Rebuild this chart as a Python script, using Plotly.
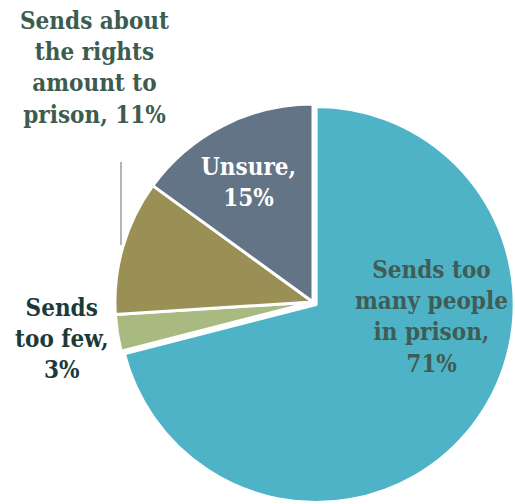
import plotly.graph_objects as go

# Survey shares, clockwise from 12 o'clock
categories = [
    "Sends too many people in prison",
    "Sends too few",
    "Sends about the rights amount to prison",
    "Unsure",
]
label_lines = [
    ["Sends too", "many people", "in prison,"],
    ["Sends", "too few,"],
    ["Sends about", "the rights", "amount to", "prison,"],
    ["Unsure,"],
]
values = [71, 3, 11, 15]

colors = ["#4fb3c8", "#a8ba80", "#9a9055", "#637486"]
label_colors = ["#3f5d55", "#1d3a3a", "#3d5c50", "#ffffff"]
# label centres in pixels (x, y from top)
label_pos = [(431, 316), (61, 338), (94, 68), (248, 182)]
# whether the value shares the last text line or gets its own
value_inline = [False, False, True, False]

W, H = 515, 504

fig = go.Figure(
    go.Pie(
        labels=categories,
        values=values,
        sort=False,
        direction="clockwise",
        rotation=0,
        pull=[0.02, 0, 0, 0],
        marker=dict(colors=colors, line=dict(color="#ffffff", width=3)),
        textinfo="none",
        hoverinfo="label+percent",
        showlegend=False,
        domain=dict(x=[111 / W, 1.0], y=[0.0, 404 / H]),
    )
)

for lines, v, col, (px, py), inline in zip(label_lines, values, label_colors, label_pos, value_inline):
    if inline:
        rows = lines[:-1] + [f"{lines[-1]} {v}%"]
    else:
        rows = lines + [f"{v}%"]
    fig.add_annotation(
        x=px / W, y=1 - py / H, xref="paper", yref="paper",
        text="<br>".join(rows), showarrow=False, align="center",
        xanchor="center", yanchor="middle",
        font=dict(family="DejaVu Serif Condensed, DejaVu Serif", size=24,
                  color=col, weight="bold"),
    )

# leader line for the olive slice label
fig.add_shape(
    type="line", xref="paper", yref="paper",
    x0=121 / W, x1=121 / W, y0=1 - 162 / H, y1=1 - 245 / H,
    line=dict(color="#b4b4b4", width=2),
)

fig.update_layout(
    width=W, height=H,
    margin=dict(l=0, r=0, t=0, b=0),
    paper_bgcolor="#ffffff",
    plot_bgcolor="#ffffff",
)

fig.write_html("out.html")
